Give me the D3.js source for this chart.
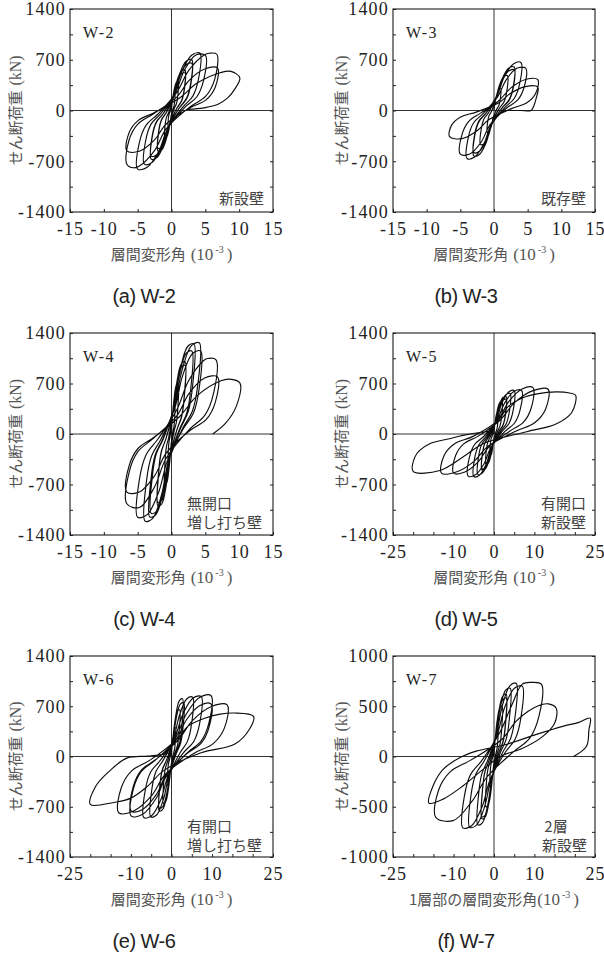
<!DOCTYPE html>
<html>
<head>
<meta charset="utf-8">
<script src="https://cdn.jsdelivr.net/npm/d3@7"></script>
<style>
  body { margin: 0; background: #fff; }
  svg { display: block; }
</style>
</head>
<body>
<svg id="chart" width="604" height="957"></svg>
<script>
// ---------- tick labels ----------
const xLabels15 = [-15, -10, -5, 0, 5, 10, 15];
const xLabels25 = [-25, -10, 0, 10, 25];
const yLabels1400 = [1400, 700, 0, -700, -1400];
const yLabels1000 = [1000, 500, 0, -500, -1000];

// ---------- panel texts ----------
const specimenNames = ["W-2", "W-3", "W-4", "W-5", "W-6", "W-7"];
const captions = ["(a) W-2", "(b) W-3", "(c) W-4", "(d) W-5", "(e) W-6", "(f) W-7"];
const wallTypes = [["新設壁"], ["既存壁"], ["無開口", "増し打ち壁"], ["有開口", "新設壁"], ["有開口", "増し打ち壁"], ["2層", "新設壁"]];
const xTitleMain = ["層間変形角", "層間変形角", "層間変形角", "層間変形角", "層間変形角", "1層部の層間変形角"];
const yTitle = "せん断荷重";

// ---------- load–drift histories: [drift (10^-3 rad), shear (kN)] ----------
const w2Curve = [
  [0,0],
  [0.06,80],[0.19,175],[0.36,243],[0.5,250],[0.48,138],[0.38,63],[0.2,15],
  [-0.06,-74],[-0.19,-161],[-0.36,-223],[-0.5,-230],[-0.48,-127],[-0.38,-58],[-0.2,-14],
  [0.12,128],[0.38,280],[0.72,388],[1,400],[0.95,220],[0.75,100],[0.4,24],
  [-0.12,-122],[-0.38,-266],[-0.72,-369],[-1,-380],[-0.95,-209],[-0.75,-95],[-0.4,-23],
  [0.24,179],[0.76,392],[1.44,543],[2,560],[1.9,308],[1.5,140],[0.8,34],
  [-0.24,-179],[-0.76,-392],[-1.44,-543],[-2,-560],[-1.9,-308],[-1.5,-140],[-0.8,-34],
  [0.24,166],[0.76,364],[1.44,504],[2,520],[1.9,286],[1.5,130],[0.8,31],
  [-0.24,-166],[-0.76,-364],[-1.44,-504],[-2,-520],[-1.9,-286],[-1.5,-130],[-0.8,-31],
  [0.36,224],[1.14,490],[2.16,679],[3,700],[2.85,385],[2.25,175],[1.2,42],
  [-0.36,-214],[-1.14,-469],[-2.16,-650],[-3,-670],[-2.85,-369],[-2.25,-168],[-1.2,-40],
  [0.36,208],[1.14,455],[2.16,631],[3,650],[2.85,358],[2.25,163],[1.2,39],
  [-0.36,-202],[-1.14,-441],[-2.16,-611],[-3,-630],[-2.85,-347],[-2.25,-158],[-1.2,-38],
  [0.5,253],[1.6,553],[3.02,766],[4.2,790],[3.99,435],[3.15,198],[1.68,47],
  [-0.48,-237],[-1.52,-518],[-2.88,-718],[-4,-740],[-3.8,-407],[-3,-185],[-1.6,-44],
  [0.6,253],[1.9,553],[3.6,766],[5,760],[4.75,418],[3.75,190],[2,46],
  [-0.6,-259],[-1.9,-566],[-3.6,-784],[-5,-808],[-4.75,-444],[-3.75,-202],[-2,-48],
  [0.8,253],[2.55,553],[4.82,766],[5.6,790],[6.7,776],[6.37,427],[5.03,194],[2.68,47],
  [-0.79,-253],[-2.51,-553],[-4.75,-766],[-5.6,-790],[-6.6,-740],[-6.27,-407],[-4.95,-185],[-2.64,-44],
  [0.82,189],[2.58,413],[4.9,572],[6.8,584],[6.46,321],[5.1,146],[2.72,35],
  [-0.79,-186],[-2.51,-406],[-4.75,-563],[-6.6,-557],[-6.27,-306],[-4.95,-139],[-2.64,-33],
  [1.2,173],[3.8,378],[7.3,524],[8.8,540],[10.1,450],[9.3,288],[8.3,174],[6.8,82],[4.8,37],[2.4,14]
];

const w3Curve = [
  [0,0],
  [0.12,96],[0.38,210],[0.72,291],[1,300],[0.95,165],[0.75,75],[0.4,18],
  [-0.12,-96],[-0.38,-210],[-0.72,-291],[-1,-300],[-0.95,-165],[-0.75,-75],[-0.4,-18],
  [0.24,154],[0.76,336],[1.44,466],[2,480],[1.9,264],[1.5,120],[0.8,29],
  [-0.24,-150],[-0.76,-329],[-1.44,-456],[-2,-470],[-1.9,-259],[-1.5,-118],[-0.8,-28],
  [0.36,192],[1.14,420],[2.16,582],[3,600],[2.85,330],[2.25,150],[1.2,36],
  [-0.36,-200],[-1.14,-438],[-2.16,-607],[-3,-626],[-2.85,-344],[-2.25,-157],[-1.2,-38],
  [0.36,179],[1.14,392],[2.16,543],[3,560],[2.85,308],[2.25,140],[1.2,34],
  [-0.36,-186],[-1.14,-406],[-2.16,-563],[-3,-580],[-2.85,-319],[-2.25,-145],[-1.2,-35],
  [0.48,212],[1.52,463],[2.88,642],[4,662],[3.8,364],[3,166],[1.6,40],
  [-0.48,-212],[-1.52,-463],[-2.88,-642],[-4,-662],[-3.8,-364],[-3,-166],[-1.6,-40],
  [0.56,192],[1.79,420],[3.38,582],[4.7,584],[4.47,321],[3.53,146],[1.88,35],
  [-0.6,-198],[-1.9,-434],[-3.6,-601],[-5,-603],[-4.75,-332],[-3.75,-151],[-2,-36],
  [0.78,141],[2.47,308],[4.68,427],[6.5,425],[6.18,234],[4.88,106],[2.6,26],
  [-0.79,-128],[-2.51,-280],[-4.75,-388],[-6.6,-360],[-6.27,-198],[-4.95,-90],[-2.64,-22],
  [0.78,109],[2.47,238],[4.68,330],[6.5,324],[6.3,180],[5.9,60],[5.5,0],[4,0],[2.3,0]
];

const w4Curve = [
  [0,0],
  [0.06,144],[0.19,315],[0.36,437],[0.5,450],[0.48,248],[0.38,113],[0.2,27],
  [-0.06,-144],[-0.19,-315],[-0.36,-437],[-0.5,-450],[-0.48,-248],[-0.38,-113],[-0.2,-27],
  [0.12,224],[0.38,490],[0.72,679],[1,700],[0.95,385],[0.75,175],[0.4,42],
  [-0.12,-224],[-0.38,-490],[-0.72,-679],[-1,-700],[-0.95,-385],[-0.75,-175],[-0.4,-42],
  [0.24,320],[0.76,700],[1.44,970],[2,1000],[1.9,550],[1.5,250],[0.8,60],
  [-0.24,-320],[-0.76,-700],[-1.44,-970],[-2,-1000],[-1.9,-550],[-1.5,-250],[-0.8,-60],
  [0.24,304],[0.76,665],[1.44,922],[2,950],[1.9,523],[1.5,238],[0.8,57],
  [-0.24,-304],[-0.76,-665],[-1.44,-922],[-2,-950],[-1.9,-523],[-1.5,-238],[-0.8,-57],
  [0.4,400],[1.25,875],[2.38,1213],[3.3,1250],[3.14,688],[2.48,313],[1.32,75],
  [-0.38,-368],[-1.22,-805],[-2.3,-1116],[-3.2,-1150],[-3.04,-633],[-2.4,-288],[-1.28,-69],
  [0.36,368],[1.14,805],[2.16,1116],[3,1150],[2.85,633],[2.25,288],[1.2,69],
  [-0.36,-352],[-1.14,-770],[-2.16,-1067],[-3,-1100],[-2.85,-605],[-2.25,-275],[-1.2,-66],
  [0.49,404],[1.56,885],[2.95,1226],[4.1,1264],[3.9,695],[3.08,316],[1.64,76],
  [-0.47,-387],[-1.48,-846],[-2.81,-1172],[-3.9,-1208],[-3.71,-664],[-2.93,-302],[-1.56,-72],
  [0.52,368],[1.63,805],[3.1,1116],[4.3,1150],[4.09,633],[3.23,288],[1.72,69],
  [-0.6,-369],[-1.9,-807],[-3.6,-1118],[-5,-1153],[-4.75,-634],[-3.75,-288],[-2,-69],
  [0.79,335],[2.49,732],[4.72,1015],[5.3,1046],[6.55,1032],[6.22,568],[4.91,258],[2.62,62],
  [-0.79,-336],[-2.51,-735],[-4.75,-1019],[-6.6,-967],[-6.27,-532],[-4.95,-242],[-2.64,-58],
  [0.82,256],[2.58,560],[4.9,776],[6.8,792],[6.46,436],[5.1,198],[2.72,48],
  [-0.79,-266],[-2.51,-581],[-4.75,-805],[-6.6,-805],[-6.27,-443],[-4.95,-201],[-2.64,-48],
  [1.2,243],[3.8,532],[7.3,737],[8.5,760],[10.1,708],[9.6,390],[8,150],[6.1,0]
];

const w5Curve = [
  [0,0],
  [0.12,96],[0.38,210],[0.72,291],[1,300],[0.95,165],[0.75,75],[0.4,18],
  [-0.12,-96],[-0.38,-210],[-0.72,-291],[-1,-300],[-0.95,-165],[-0.75,-75],[-0.4,-18],
  [0.24,144],[0.76,315],[1.44,437],[2,450],[1.9,248],[1.5,113],[0.8,27],
  [-0.24,-134],[-0.76,-294],[-1.44,-407],[-2,-420],[-1.9,-231],[-1.5,-105],[-0.8,-25],
  [0.36,166],[1.14,364],[2.16,504],[3,520],[2.85,286],[2.25,130],[1.2,31],
  [-0.36,-160],[-1.14,-350],[-2.16,-485],[-3,-500],[-2.85,-275],[-2.25,-125],[-1.2,-30],
  [0.36,154],[1.14,336],[2.16,466],[3,480],[2.85,264],[2.25,120],[1.2,29],
  [-0.36,-154],[-1.14,-336],[-2.16,-466],[-3,-480],[-2.85,-264],[-2.25,-120],[-1.2,-29],
  [0.48,179],[1.52,392],[2.88,543],[4,560],[3.8,308],[3,140],[1.6,34],
  [-0.48,-179],[-1.52,-392],[-2.88,-543],[-4,-560],[-3.8,-308],[-3,-140],[-1.6,-34],
  [0.6,192],[1.9,420],[3.6,582],[5,600],[4.75,330],[3.75,150],[2,36],
  [-0.6,-189],[-1.9,-413],[-3.6,-572],[-5,-590],[-4.75,-325],[-3.75,-148],[-2,-35],
  [0.82,194],[2.58,424],[4.9,588],[6.8,606],[6.46,333],[5.1,152],[2.72,36],
  [-0.77,-187],[-2.43,-408],[-4.61,-566],[-6.4,-583],[-6.08,-321],[-4.8,-146],[-2.56,-35],
  [1.16,206],[3.67,450],[6.95,624],[9.65,643],[9.17,354],[7.24,161],[3.86,39],
  [-1.2,-173],[-3.8,-379],[-7.2,-526],[-10,-542],[-9.5,-298],[-7.5,-136],[-4,-33],
  [1.61,198],[5.09,434],[9.65,601],[13.4,620],[12.73,341],[10.05,155],[5.36,37],
  [-1.56,-173],[-4.94,-379],[-9.36,-526],[-13,-542],[-12.35,-298],[-9.75,-136],[-5.2,-33],
  [1.2,200],[3.5,380],[7,500],[11,560],[15.4,583],[18.7,569],[20.2,537],[19.2,295],[15.2,134],[8.1,32],
  [-2.7,-134],[-7.7,-320],[-13.4,-505],[-20,-519],[-19.6,-320],[-18.4,-227],[-15.9,-134],[-11,-65],[-7.7,-19],[-2.7,28],[0,40]
];

const w6Curve = [
  [0,0],
  [0.12,128],[0.38,280],[0.72,388],[1,400],[0.95,220],[0.75,100],[0.4,24],
  [-0.12,-128],[-0.38,-280],[-0.72,-388],[-1,-400],[-0.95,-220],[-0.75,-100],[-0.4,-24],
  [0.24,208],[0.76,455],[1.44,631],[2,650],[1.9,358],[1.5,163],[0.8,39],
  [-0.24,-208],[-0.76,-455],[-1.44,-631],[-2,-650],[-1.9,-358],[-1.5,-163],[-0.8,-39],
  [0.32,257],[1.03,562],[1.94,779],[2.7,803],[2.57,442],[2.03,201],[1.08,48],
  [-0.36,-243],[-1.14,-532],[-2.16,-737],[-3,-760],[-2.85,-418],[-2.25,-190],[-1.2,-46],
  [0.36,240],[1.14,525],[2.16,728],[3,750],[2.85,413],[2.25,188],[1.2,45],
  [-0.36,-230],[-1.14,-504],[-2.16,-698],[-3,-720],[-2.85,-396],[-2.25,-180],[-1.2,-43],
  [0.62,264],[1.98,578],[3.74,801],[5.2,826],[4.94,454],[3.9,207],[2.08,50],
  [-0.61,-269],[-1.94,-588],[-3.67,-815],[-5.1,-840],[-4.85,-462],[-3.83,-210],[-2.04,-50],
  [0.88,268],[2.77,585],[5.26,811],[7.3,836],[6.94,460],[5.48,209],[2.92,50],
  [-0.82,-272],[-2.58,-595],[-4.9,-825],[-6.8,-850],[-6.46,-468],[-5.1,-213],[-2.72,-51],
  [1.16,272],[3.69,595],[6.98,825],[9.7,850],[9.22,468],[7.28,213],[3.88,51],
  [-1.19,-266],[-3.76,-582],[-7.13,-806],[-9.9,-831],[-9.41,-457],[-7.43,-208],[-3.96,-50],
  [1.16,234],[3.69,512],[6.98,710],[9.7,732],[9.22,403],[7.28,183],[3.88,44],
  [-1.19,-243],[-3.76,-532],[-7.13,-737],[-9.9,-760],[-9.41,-418],[-7.43,-190],[-3.96,-46],
  [1.64,230],[5.21,503],[9.86,696],[13.7,718],[13.02,395],[10.28,180],[5.48,43],
  [-1.56,-251],[-4.94,-549],[-9.36,-760],[-13,-784],[-12.35,-431],[-9.75,-196],[-5.2,-47],
  [1.5,250],[4,420],[8,530],[12,590],[15.5,606],[20.2,559],[19.2,380],[15.5,169],[7.3,52],
  [-2,-200],[-6,-420],[-10,-580],[-14.2,-640],[-20,-667],[-18.7,-418],[-15.8,-230],[-10.9,-19],[-5.9,5],[-2,30],[0,60]
];

const w7Curve = [
  [0,0],
  [0.12,96],[0.38,210],[0.72,291],[1,300],[0.95,165],[0.75,75],[0.4,18],
  [-0.12,-96],[-0.38,-210],[-0.72,-291],[-1,-300],[-0.95,-165],[-0.75,-75],[-0.4,-18],
  [0.24,160],[0.76,350],[1.44,485],[2,500],[1.9,275],[1.5,125],[0.8,30],
  [-0.24,-160],[-0.76,-350],[-1.44,-485],[-2,-500],[-1.9,-275],[-1.5,-125],[-0.8,-30],
  [0.36,198],[1.14,434],[2.16,601],[3,620],[2.85,341],[2.25,155],[1.2,37],
  [-0.36,-198],[-1.14,-434],[-2.16,-601],[-3,-620],[-2.85,-341],[-2.25,-155],[-1.2,-37],
  [0.36,186],[1.14,406],[2.16,563],[3,580],[2.85,319],[2.25,145],[1.2,35],
  [-0.36,-192],[-1.14,-420],[-2.16,-582],[-3,-600],[-2.85,-330],[-2.25,-150],[-1.2,-36],
  [0.48,218],[1.52,476],[2.88,660],[4,680],[3.8,374],[3,170],[1.6,41],
  [-0.48,-218],[-1.52,-476],[-2.88,-660],[-4,-680],[-3.8,-374],[-3,-170],[-1.6,-41],
  [0.66,233],[2.09,509],[3.96,705],[5.5,727],[5.23,400],[4.13,182],[2.2,44],
  [-0.72,-225],[-2.28,-493],[-4.32,-683],[-6,-704],[-5.7,-387],[-4.5,-176],[-2.4,-42],
  [0.84,224],[2.66,490],[5.04,679],[7,700],[6.65,385],[5.25,175],[2.8,42],
  [-0.92,-227],[-2.93,-497],[-5.54,-689],[-7.7,-710],[-7.32,-391],[-5.78,-178],[-3.08,-43],
  [1.4,236],[4.45,516],[7,720],[9.2,737],[11.7,720],[11.1,396],[8.8,180],[4.7,43],
  [-1.73,-204],[-5.47,-447],[-10.1,-638],[-14.4,-605],[-13.7,-333],[-10.8,-151],[-5.76,-36],
  [1.85,167],[5.85,366],[11.1,507],[13.5,523],[15.4,480],[15,330],[12.1,200],[6.4,69],[2,10],
  [-2.7,-128],[-7.7,-293],[-12.6,-424],[-16.1,-464],[-15.1,-293],[-12.6,-128],[-8.5,-13],[-4.4,53],
  [3,120],[10.5,220],[17,300],[21,340],[23.8,382],[23.5,266],[22.9,102],[19.7,0]
];

const curves = [w2Curve, w3Curve, w4Curve, w5Curve, w6Curve, w7Curve];

// ---------- layout ----------
const colLeft = [70, 393], colWidth = [203, 202], colCaption = [144, 466];
const rowTop = [9, 333, 656], rowHeight = [203, 202, 201];
const yTitleOffset = [-49, -46];

const panelSpecs = [
  { xMax: 15, xLabels: xLabels15, yMax: 1400, yLabels: yLabels1400, yStep: 350,
    notes: [{ anchor: "end", fromRight: 9, up: 8 }] },
  { xMax: 15, xLabels: xLabels15, yMax: 1400, yLabels: yLabels1400, yStep: 350,
    notes: [{ anchor: "end", fromRight: 9, up: 8 }] },
  { xMax: 15, xLabels: xLabels15, yMax: 1400, yLabels: yLabels1400, yStep: 350,
    notes: [{ anchor: "start", fromLeft: 117, up: 26 }, { anchor: "start", fromLeft: 117, up: 7 }] },
  { xMax: 25, xLabels: xLabels25, yMax: 1400, yLabels: yLabels1400, yStep: 350,
    notes: [{ anchor: "end", fromRight: 9, up: 26 }, { anchor: "end", fromRight: 9, up: 7 }] },
  { xMax: 25, xLabels: xLabels25, yMax: 1400, yLabels: yLabels1400, yStep: 350,
    notes: [{ anchor: "start", fromLeft: 117, up: 25 }, { anchor: "start", fromLeft: 117, up: 6 }] },
  { xMax: 25, xLabels: xLabels25, yMax: 1000, yLabels: yLabels1000, yStep: 250,
    notes: [{ anchor: "middle", fromRight: 39, up: 25 }, { anchor: "end", fromRight: 8, up: 6 }] }
];

const SERIF = "'Liberation Serif', 'Times New Roman', serif";
const CJK = "'Noto Sans CJK JP', 'Noto Sans CJK SC', sans-serif";
const SANS = "'Liberation Sans', Arial, sans-serif";

const svg = d3.select("#chart");

panelSpecs.forEach((spec, i) => {
  const col = i % 2, row = Math.floor(i / 2);
  const left = colLeft[col], top = rowTop[row];
  const w = colWidth[col], h = rowHeight[row];

  const g = svg.append("g").attr("transform", `translate(${left},${top})`);

  const x = d3.scaleLinear().domain([-spec.xMax, spec.xMax]).range([0, w]);
  const y = d3.scaleLinear().domain([-spec.yMax, spec.yMax]).range([h, 0]);

  const clipId = "clip" + i;
  g.append("clipPath").attr("id", clipId)
    .append("rect").attr("width", w).attr("height", h);

  // zero axes
  g.append("line").attr("x1", x(0)).attr("x2", x(0)).attr("y1", 0).attr("y2", h)
    .attr("stroke", "#333").attr("stroke-width", 1);
  g.append("line").attr("x1", 0).attr("x2", w).attr("y1", y(0)).attr("y2", y(0))
    .attr("stroke", "#333").attr("stroke-width", 1);

  // hysteresis curve
  const line = d3.line()
    .x(d => x(d[0])).y(d => y(d[1]))
    .curve(d3.curveCatmullRom.alpha(0.5));
  g.append("path")
    .datum(curves[i])
    .attr("clip-path", `url(#${clipId})`)
    .attr("d", line)
    .attr("fill", "none")
    .attr("stroke", "#0d0d0d")
    .attr("stroke-width", 1.15)
    .attr("stroke-linejoin", "round");

  // axes with inward ticks
  const xTickVals = d3.range(-spec.xMax, spec.xMax + 0.001, 5);
  const yTickVals = d3.range(-spec.yMax, spec.yMax + 0.001, spec.yStep);

  const xAxis = d3.axisBottom(x).tickValues(xTickVals).tickSizeInner(-3).tickSizeOuter(0)
    .tickFormat(v => spec.xLabels.includes(v) ? String(v) : "");
  const gx = g.append("g").attr("transform", `translate(0,${h})`).call(xAxis);
  gx.select(".domain").remove();
  gx.selectAll(".tick line").attr("stroke", "#222");
  gx.selectAll("text").attr("y", 23).attr("dy", null)
    .attr("font-family", SERIF).attr("font-size", 18).attr("letter-spacing", 1)
    .attr("fill", "#222");

  const yAxis = d3.axisLeft(y).tickValues(yTickVals).tickSizeInner(-3).tickSizeOuter(0)
    .tickPadding(4)
    .tickFormat(v => spec.yLabels.includes(v) ? String(v) : "");
  const gy = g.append("g").call(yAxis);
  gy.select(".domain").remove();
  gy.selectAll(".tick line").attr("stroke", "#222");
  gy.selectAll("text").attr("font-family", SERIF).attr("font-size", 18)
    .attr("letter-spacing", 1.2).attr("fill", "#222").attr("dy", "0.33em");

  const yAxisR = d3.axisRight(y).tickValues(yTickVals).tickSizeInner(-3).tickSizeOuter(0)
    .tickFormat("");
  const gyr = g.append("g").attr("transform", `translate(${w},0)`).call(yAxisR);
  gyr.select(".domain").remove();
  gyr.selectAll(".tick line").attr("stroke", "#222");

  // frame
  g.append("rect").attr("width", w).attr("height", h)
    .attr("fill", "none").attr("stroke", "#1a1a1a").attr("stroke-width", 1.1);

  // specimen name
  g.append("text").attr("x", 13).attr("y", 29)
    .attr("font-family", SERIF).attr("font-size", 16).attr("letter-spacing", 1.5)
    .attr("fill", "#222").text(specimenNames[i]);

  // wall type notes
  spec.notes.forEach((n, k) => {
    const tx = n.fromRight !== undefined ? w - n.fromRight : n.fromLeft;
    g.append("text").attr("x", tx).attr("y", h - n.up)
      .attr("text-anchor", n.anchor)
      .attr("font-family", CJK).attr("font-size", 15)
      .attr("fill", "#444").text(wallTypes[i][k]);
  });

  // y title
  const yt = g.append("text")
    .attr("transform", `translate(${yTitleOffset[col]},${h / 2}) rotate(-90)`)
    .attr("text-anchor", "middle").attr("fill", "#555");
  yt.append("tspan").attr("font-family", CJK).attr("font-size", 15).text(yTitle);
  yt.append("tspan").attr("font-family", SERIF).attr("font-size", 16).attr("dx", 5).text("(kN)");

  // x title
  const xt = g.append("text")
    .attr("x", w / 2).attr("y", h + 48)
    .attr("text-anchor", "middle").attr("fill", "#555");
  xt.append("tspan").attr("font-family", CJK).attr("font-size", 15).text(xTitleMain[i]);
  xt.append("tspan").attr("font-family", SERIF).attr("font-size", 17)
    .attr("dx", i === 5 ? 0 : 5).text("(10");
  xt.append("tspan").attr("font-family", SERIF).attr("font-size", 10).attr("dy", -7).attr("dx", 2).text("-3");
  xt.append("tspan").attr("font-family", SERIF).attr("font-size", 17).attr("dy", 7).attr("dx", 3).text(")");

  // caption
  svg.append("text")
    .attr("x", colCaption[col]).attr("y", top + h + 91)
    .attr("text-anchor", "middle")
    .attr("font-family", SANS).attr("font-size", 20).attr("letter-spacing", -0.5)
    .attr("fill", "#222").text(captions[i]);
});
</script>
</body>
</html>
